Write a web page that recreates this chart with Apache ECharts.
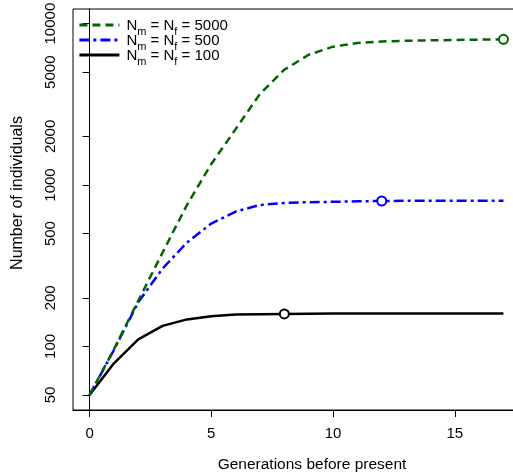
<!DOCTYPE html>
<html>
<head>
<meta charset="utf-8">
<script src="https://cdn.jsdelivr.net/npm/echarts@6/dist/echarts.min.js"></script>
<style>
  html, body { margin: 0; padding: 0; background: #fff; }
  #chart { width: 513px; height: 476px; }
</style>
</head>
<body>
<div id="chart"></div>
<script>
// generations before present
const gens = [0, 1, 2, 3, 4, 5, 6, 7, 8, 9, 10, 11, 12, 13, 14, 15, 16, 17]
// number of individuals
const n5000 = [50, 96, 192, 382, 752, 1350, 2220, 3670, 5180, 6410, 7200, 7590, 7750, 7830, 7880, 7920, 7960, 8000]
const n500 = [50, 95, 188, 304, 440, 577, 685, 752, 774, 783, 787, 793, 796, 798, 799, 800, 800, 800]
const n100 = [50, 78.6, 110.6, 134, 147, 154, 157.6, 158.5, 159, 159.5, 160, 160, 160, 160, 160, 160, 160, 160]
// generation where the open circle sits on each curve
const markGen = { '5000': 17, '500': 12, '100': 8 }

const xTicks = [0, 5, 10, 15]
const yTicks = [50, 100, 200, 500, 1000, 2000, 5000, 10000]

const font = 'Liberation Sans, Arial, Helvetica, sans-serif'

const chart = echarts.init(document.getElementById('chart'))

function makeSeries(name, values, color, dash) {
  const mi = gens.indexOf(markGen[name])
  return {
    name: name,
    type: 'line',
    data: gens.map((g, i) => [g, values[i]]),
    symbol: 'none',
    lineStyle: { color: color, width: 2.5, type: dash },
    itemStyle: { color: color },
    markPoint: {
      symbol: 'circle',
      symbolSize: 9,
      silent: true,
      label: { show: false },
      itemStyle: { color: '#fff', borderColor: color, borderWidth: 2 },
      data: [{ coord: [gens[mi], values[mi]] }]
    }
  }
}

const option = {
  animation: false,
  grid: {
    left: 73,
    top: 9,
    width: 447,
    height: 401,
    outerBoundsMode: 'none',
    show: true,
    borderColor: '#000',
    borderWidth: 1
  },
  legend: {
    data: ['5000', '500', '100'],
    orient: 'vertical',
    left: 78,
    top: 18,
    padding: 0,
    itemWidth: 40,
    itemHeight: 14,
    itemGap: -4,
    selectedMode: false,
    itemStyle: { color: 'rgba(0,0,0,0)', borderWidth: 0, opacity: 0 },
    lineStyle: { width: 2.8 },
    formatter: name => '{n0|N}{s|m}{n| = N}{s|f}{n| = ' + name + '}',
    textStyle: {
      color: '#000',
      fontFamily: font,
      fontSize: 15,
      lineHeight: 14,
      rich: {
        n0: { fontFamily: font, fontSize: 15, color: '#000', lineHeight: 14, verticalAlign: 'top', padding: [0, 0, 0, 2] },
        n: { fontFamily: font, fontSize: 15, color: '#000', lineHeight: 14, verticalAlign: 'top' },
        s: { fontFamily: font, fontSize: 11, color: '#000', lineHeight: 6, verticalAlign: 'top', padding: [8, 0, 0, 0] }
      }
    }
  },
  xAxis: {
    type: 'value',
    min: -0.68,
    max: 17.68,
    axisLine: { show: true, onZero: false, lineStyle: { color: '#000', width: 1 } },
    axisTick: { show: true, length: 7, customValues: xTicks, lineStyle: { color: '#000' } },
    axisLabel: { customValues: xTicks, margin: 16, color: '#000', fontSize: 15, fontFamily: font },
    splitLine: { show: false }
  },
  yAxis: {
    type: 'log',
    logBase: 10,
    min: 40.37,
    max: 12320,
    axisLine: { show: true, lineStyle: { color: '#000', width: 1 } },
    axisTick: { show: true, length: 7, customValues: yTicks, lineStyle: { color: '#000' } },
    axisLabel: {
      customValues: yTicks,
      rotate: 90,
      margin: 15,
      color: '#000',
      fontSize: 15,
      fontFamily: font,
      formatter: v => String(v)
    },
    splitLine: { show: false }
  },
  graphic: [
    {
      type: 'text',
      x: 18,
      y: 193,
      rotation: Math.PI / 2,
      style: { text: 'Number of individuals', font: '16px ' + font, fill: '#000', align: 'center', verticalAlign: 'middle' }
    },
    {
      type: 'text',
      x: 312,
      y: 465,
      style: { text: 'Generations before present', font: '15.5px ' + font, fill: '#000', align: 'center', verticalAlign: 'middle' }
    }
  ],
  series: [
    makeSeries('100', n100, '#000000', 'solid'),
    makeSeries('500', n500, '#0000ff', [10, 4, 3, 4]),
    makeSeries('5000', n5000, '#006400', [8, 5])
  ]
}

chart.setOption(option)
</script>
</body>
</html>
